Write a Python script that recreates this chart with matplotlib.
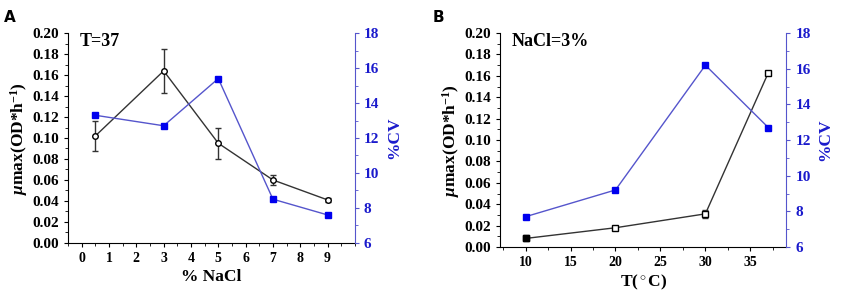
import matplotlib.pyplot as plt
from matplotlib.ticker import MultipleLocator, FixedLocator

plt.rcParams['font.family'] = ['Liberation Serif', 'DejaVu Serif']
plt.rcParams['font.weight'] = 'bold'
plt.rcParams['mathtext.fontset'] = 'custom'
plt.rcParams['mathtext.rm'] = 'Liberation Serif:bold'
plt.rcParams['mathtext.it'] = 'Liberation Serif:italic:bold'

# Panel A: growth rate vs NaCl at T=37
nacl = [0.5, 3, 5, 7, 9]
mu_a = [0.102, 0.164, 0.095, 0.060, 0.041]
err_a = [0.014, 0.021, 0.015, 0.005, 0.002]
cv_a = [13.3, 12.7, 15.4, 8.5, 7.6]
ticks_a = [0, 1, 2, 3, 4, 5, 6, 7, 8, 9]

# Panel B: growth rate vs temperature at NaCl=3%
temp = [10, 20, 30, 37]
mu_b = [0.008, 0.018, 0.031, 0.163]
err_b = [0.001, 0.001, 0.004, 0.001]
cv_b = [7.7, 9.2, 16.2, 12.7]
ticks_b = [10, 15, 20, 25, 30, 35]

black = '#333333'
blue_line = '#5555cc'
blue_mark = '#0000ee'
blue_text = '#1a1acc'

fig = plt.figure(figsize=(8.51, 2.93), dpi=100)


def panel(rect, x, mu, err, cv, xlim, xticks, xminor, xlabel, note, letter, lx, black_marker):
    ax = fig.add_axes(rect)
    ax.errorbar(x, mu, yerr=err, color=black, lw=1, marker=black_marker, ms=4,
                mfc='white', mec='black', mew=1, capsize=2, elinewidth=1, zorder=3)
    ax.set_xlim(*xlim)
    ax.set_ylim(0, 0.2)
    ax.yaxis.set_major_locator(MultipleLocator(0.02))
    ax.yaxis.set_minor_locator(MultipleLocator(0.01))
    ax.xaxis.set_major_locator(FixedLocator(xticks))
    ax.xaxis.set_minor_locator(MultipleLocator(xminor))
    ax.yaxis.set_major_formatter(plt.FormatStrFormatter('%.2f'))
    ax.tick_params(axis='both', which='major', length=3, labelsize=11)
    ax.tick_params(axis='x', which='major', labelsize=10)
    ax.tick_params(axis='both', which='minor', length=2)
    ax.spines['top'].set_visible(False)
    ax.spines['right'].set_visible(False)
    ax.set_xlabel(xlabel, fontsize=12.5, fontweight='bold', labelpad=3)
    ax.set_ylabel(r'$\mu$max(OD*h$^{-1}$)', fontsize=12.5, fontweight='bold', labelpad=2)
    ax.text(0.04, 1.0, note, transform=ax.transAxes, fontsize=13,
            fontweight='bold', va='top', ha='left')

    ax2 = ax.twinx()
    ax2.plot(x, cv, color=blue_line, lw=1, marker='s', ms=4.5,
             mfc=blue_mark, mec=blue_mark, zorder=2)
    ax2.set_ylim(6, 18)
    ax2.yaxis.set_major_locator(MultipleLocator(2))
    ax2.yaxis.set_minor_locator(MultipleLocator(1))
    ax2.spines['top'].set_visible(False)
    ax2.spines['left'].set_visible(False)
    ax2.spines['bottom'].set_visible(False)
    ax2.spines['right'].set_color(blue_line)
    ax2.tick_params(axis='y', which='both', colors=blue_line, labelcolor=blue_text, labelsize=11)
    ax2.tick_params(axis='y', which='major', length=3)
    ax2.tick_params(axis='y', which='minor', length=2)
    ax2.set_ylabel('%CV', color=blue_text, fontsize=12.5, fontweight='bold', labelpad=5)

    fig.text(lx, 0.965, letter, fontsize=11, fontweight='bold',
             family='DejaVu Sans', va='top')
    return ax


panel([0.080, 0.171, 0.337, 0.716], nacl, mu_a, err_a, cv_a, (-0.5, 10), ticks_a, 0.5,
      '% NaCl', 'T=37', 'A', 0.005, 'o')
axb = panel([0.588, 0.157, 0.336, 0.730], temp, mu_b, err_b, cv_b, (7.2, 39), ticks_b, 2.5,
            r'T($^\circ$C)', 'NaCl=3%', 'B', 0.508, 's')
# first point in panel B is drawn as a filled square
axb.plot(temp[:1], mu_b[:1], 's', ms=4, color='black', zorder=4)

fig.savefig('out.png', dpi=100)
